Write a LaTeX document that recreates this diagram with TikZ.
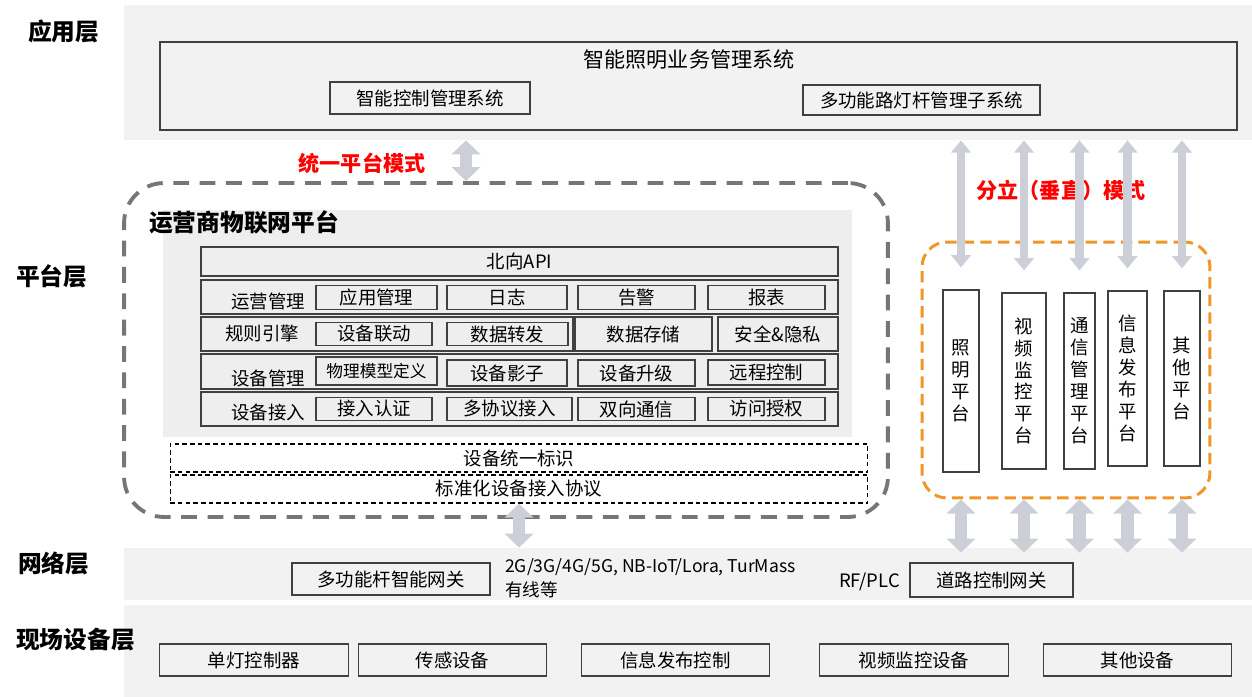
\documentclass[tikz,border=0pt]{standalone}
\usepackage{fontspec}
\setmainfont{Noto Sans CJK SC}
\usetikzlibrary{arrows.meta,positioning}

\definecolor{bandgray}{RGB}{242,242,242}
\definecolor{coregray}{RGB}{238,238,238}
\definecolor{boxline}{RGB}{64,64,64}
\definecolor{arrowgray}{RGB}{204,207,215}
\definecolor{modered}{RGB}{255,0,0}
\definecolor{pforange}{RGB}{240,150,40}
\definecolor{iotgray}{RGB}{118,118,118}

\tikzset{
  band/.style={fill=bandgray, inner sep=0pt, minimum width=22.56cm},
  box/.style={draw=boxline, line width=0.7pt, inner sep=0pt, font=\fontsize{10.5}{12}\selectfont},
  subbox/.style={box, minimum height=0.47cm},
  rowbox/.style={draw=boxline, line width=0.7pt, inner sep=0pt, minimum height=0.68cm},
  rowlabel/.style={font=\fontsize{10.5}{12}\selectfont},
  layer/.style={anchor=west, font=\bfseries\fontsize{13.5}{15}\selectfont},
  mode/.style={text=modered, font=\bfseries\fontsize{12}{14}\selectfont},
  pillar/.style={box, align=center, font=\fontsize{10.5}{12.5}\selectfont},
  dashbox/.style={draw=black, dash pattern=on 2.6pt off 1.8pt, line width=0.6pt, inner sep=0pt,
    minimum width=13.96cm, minimum height=0.56cm, font=\fontsize{10.5}{12}\selectfont},
  fieldbox/.style={box, minimum width=3.77cm, minimum height=0.64cm},
  twoway/.style={draw=arrowgray, line width=5pt, {Triangle[width=11pt,length=7pt]}-{Triangle[width=11pt,length=7pt]}},
  fattwoway/.style={draw=arrowgray, line width=7pt, {Triangle[width=16pt,length=8pt]}-{Triangle[width=16pt,length=8pt]}}
}

\begin{document}
\begin{tikzpicture}[x=0.02cm, y=-0.02cm]
  \useasboundingbox (0,0) rectangle (1252,697);
  % Bands
  \node[band, minimum height=2.7cm] (appband) at (688,72.5) {};
  \node[band, minimum height=1.04cm] (netband) at (688,574) {};
  \node[band, minimum height=1.84cm] (fieldband) at (688,651) {};
  % Layer names
  \node[layer] (lapp) at (22,31) {应用层};
  \node[layer] (lplat) at (10,276) {平台层};
  \node[layer] (lnet) at (12,563) {网络层};
  \node[layer] (lfield) at (10,640) {现场设备层};
  % Application layer
  \node[box, minimum width=21.54cm, minimum height=1.76cm] (bizsys) at (698.5,86) {};
  \node[font=\fontsize{12}{14}\selectfont] (biztitle) at (689,60) {智能照明业务管理系统};
  \node[box, minimum width=4cm, minimum height=0.64cm] (ctrlsys) at (430,98) {智能控制管理系统};
  \node[box, minimum width=4.74cm, minimum height=0.6cm] (polesys) at (921.5,100) {多功能路灯杆管理子系统};
  % Modes
  \node[mode] (unified) at (362,163) {统一平台模式};
  \node[mode] (split) at (1061,190) {分立（垂直）模式};
  % Operator IoT platform
  \node[draw=iotgray, line width=2.2pt, dash pattern=on 9pt off 6pt, rounded corners=0.8cm,
    minimum width=15.28cm, minimum height=6.68cm] (iot) at (506,350) {};
  \node[fill=coregray, minimum width=13.78cm, minimum height=4.54cm, inner sep=0pt] (core) at (507.5,323.5) {};
  \node[anchor=west, font=\bfseries\fontsize{13.5}{15}\selectfont] (iottitle) at (143,222) {运营商物联网平台};
  \node[box, minimum width=12.74cm, minimum height=0.58cm] (napi) at (519.5,261.5) {北向API};
  % Rows
  \node[rowbox, minimum width=12.74cm] (ops) at (519.5,297) {};
  \node[rowbox, minimum width=7.44cm] (rules) at (387,334) {};
  \node[box, minimum width=2.74cm, minimum height=0.68cm] (store) at (643.5,334) {数据存储};
  \node[box, minimum width=2.4cm, minimum height=0.68cm] (secure) at (778,334) {安全\&隐私};
  \node[rowbox, minimum width=12.74cm, minimum height=0.7cm] (devmgmt) at (519.5,371.5) {};
  \node[rowbox, minimum width=12.74cm] (access) at (519.5,409) {};
  \node[rowlabel] (lops) at (268,301) {运营管理};
  \node[rowlabel] (lrules) at (262,333) {规则引擎};
  \node[rowlabel] (ldev) at (268,378) {设备管理};
  \node[rowlabel] (lacc) at (268,412) {设备接入};
  % Row boxes
  \node[subbox, minimum width=2.42cm] (appmgmt) at (376.5,297.5) {应用管理};
  \node[subbox, minimum width=2.4cm] (logs) at (507,297.5) {日志};
  \node[subbox, minimum width=2.34cm] (alarm) at (636.5,297.5) {告警};
  \node[subbox, minimum width=2.34cm] (report) at (766.5,297.5) {报表};
  \node[subbox, minimum width=2.32cm] (linkage) at (374,334) {设备联动};
  \node[subbox, minimum width=2.42cm] (forward) at (507.5,334) {数据转发};
  \node[subbox, minimum width=2.42cm, minimum height=0.56cm, font=\fontsize{9.5}{11}\selectfont] (model) at (376.5,371) {物理模型定义};
  \node[subbox, minimum width=2.4cm, minimum height=0.52cm] (shadow) at (507,373) {设备影子};
  \node[subbox, minimum width=2.34cm, minimum height=0.52cm] (upgrade) at (636.5,373) {设备升级};
  \node[subbox, minimum width=2.34cm, minimum height=0.5cm] (remote) at (766.5,372.5) {远程控制};
  \node[subbox, minimum width=2.32cm] (auth) at (374,409) {接入认证};
  \node[subbox, minimum width=2.5cm] (multi) at (509.5,409) {多协议接入};
  \node[subbox, minimum width=2.34cm] (duplex) at (636.5,409) {双向通信};
  \node[subbox, minimum width=2.34cm] (grant) at (766.5,409) {访问授权};
  \node[dashbox] (ident) at (519,458) {设备统一标识};
  \node[dashbox] (proto) at (519,489) {标准化设备接入协议};
  % Separate platforms
  \node[draw=pforange, line width=1.7pt, dash pattern=on 6.5pt off 3.5pt, rounded corners=0.5cm,
    minimum width=5.76cm, minimum height=5.12cm] (split box) at (1066,370) {};
  \node[pillar, minimum width=0.72cm, minimum height=3.64cm] (p1) at (961,381) {照\\明\\平\\台};
  \node[pillar, minimum width=0.88cm, minimum height=3.52cm] (p2) at (1024,381) {视\\频\\监\\控\\平\\台};
  \node[pillar, minimum width=0.62cm, minimum height=3.52cm] (p3) at (1079.5,381) {通\\信\\管\\理\\平\\台};
  \node[pillar, minimum width=0.78cm, minimum height=3.5cm] (p4) at (1127.5,378.5) {信\\息\\发\\布\\平\\台};
  \node[pillar, minimum width=0.72cm, minimum height=3.5cm] (p5) at (1182,378.5) {其\\他\\平\\台};
  % Network layer
  \node[box, minimum width=3.96cm, minimum height=0.64cm] (polegw) at (391,579) {多功能杆智能网关};
  \node[anchor=west, align=left, font=\fontsize{10}{13.6}\selectfont] (links) at (499,578) {2G/3G/4G/5G, NB-IoT/Lora, TurMass\\有线等};
  \node[anchor=east, font=\fontsize{10.5}{12}\selectfont] (rfplc) at (906,582) {RF/PLC};
  \node[box, minimum width=3.26cm, minimum height=0.68cm] (roadgw) at (991.5,580) {道路控制网关};
  % Field layer
  \node[fieldbox] (lamp) at (254,660) {单灯控制器};
  \node[fieldbox] (sensor) at (452.5,660) {传感设备};
  \node[fieldbox] (info) at (675.5,660) {信息发布控制};
  \node[fieldbox] (video) at (914,660) {视频监控设备};
  \node[fieldbox] (other) at (1137.5,660) {其他设备};
  % Arrows
  \coordinate (unifyx) at (466,0);
  \draw[fattwoway] (appband.south -| unifyx) -- (iot.north -| unifyx);
  \draw[fattwoway] (proto.south) -- (netband.north -| proto.south);
  \foreach \p in {p1,p2,p3,p4,p5}{
    \draw[twoway] (appband.south -| \p) -- ([yshift=0.44cm]\p.north);
    \draw[fattwoway] (split box.south -| \p) -- ([yshift=-0.1cm]netband.north -| \p);
  }
\end{tikzpicture}
\end{document}
